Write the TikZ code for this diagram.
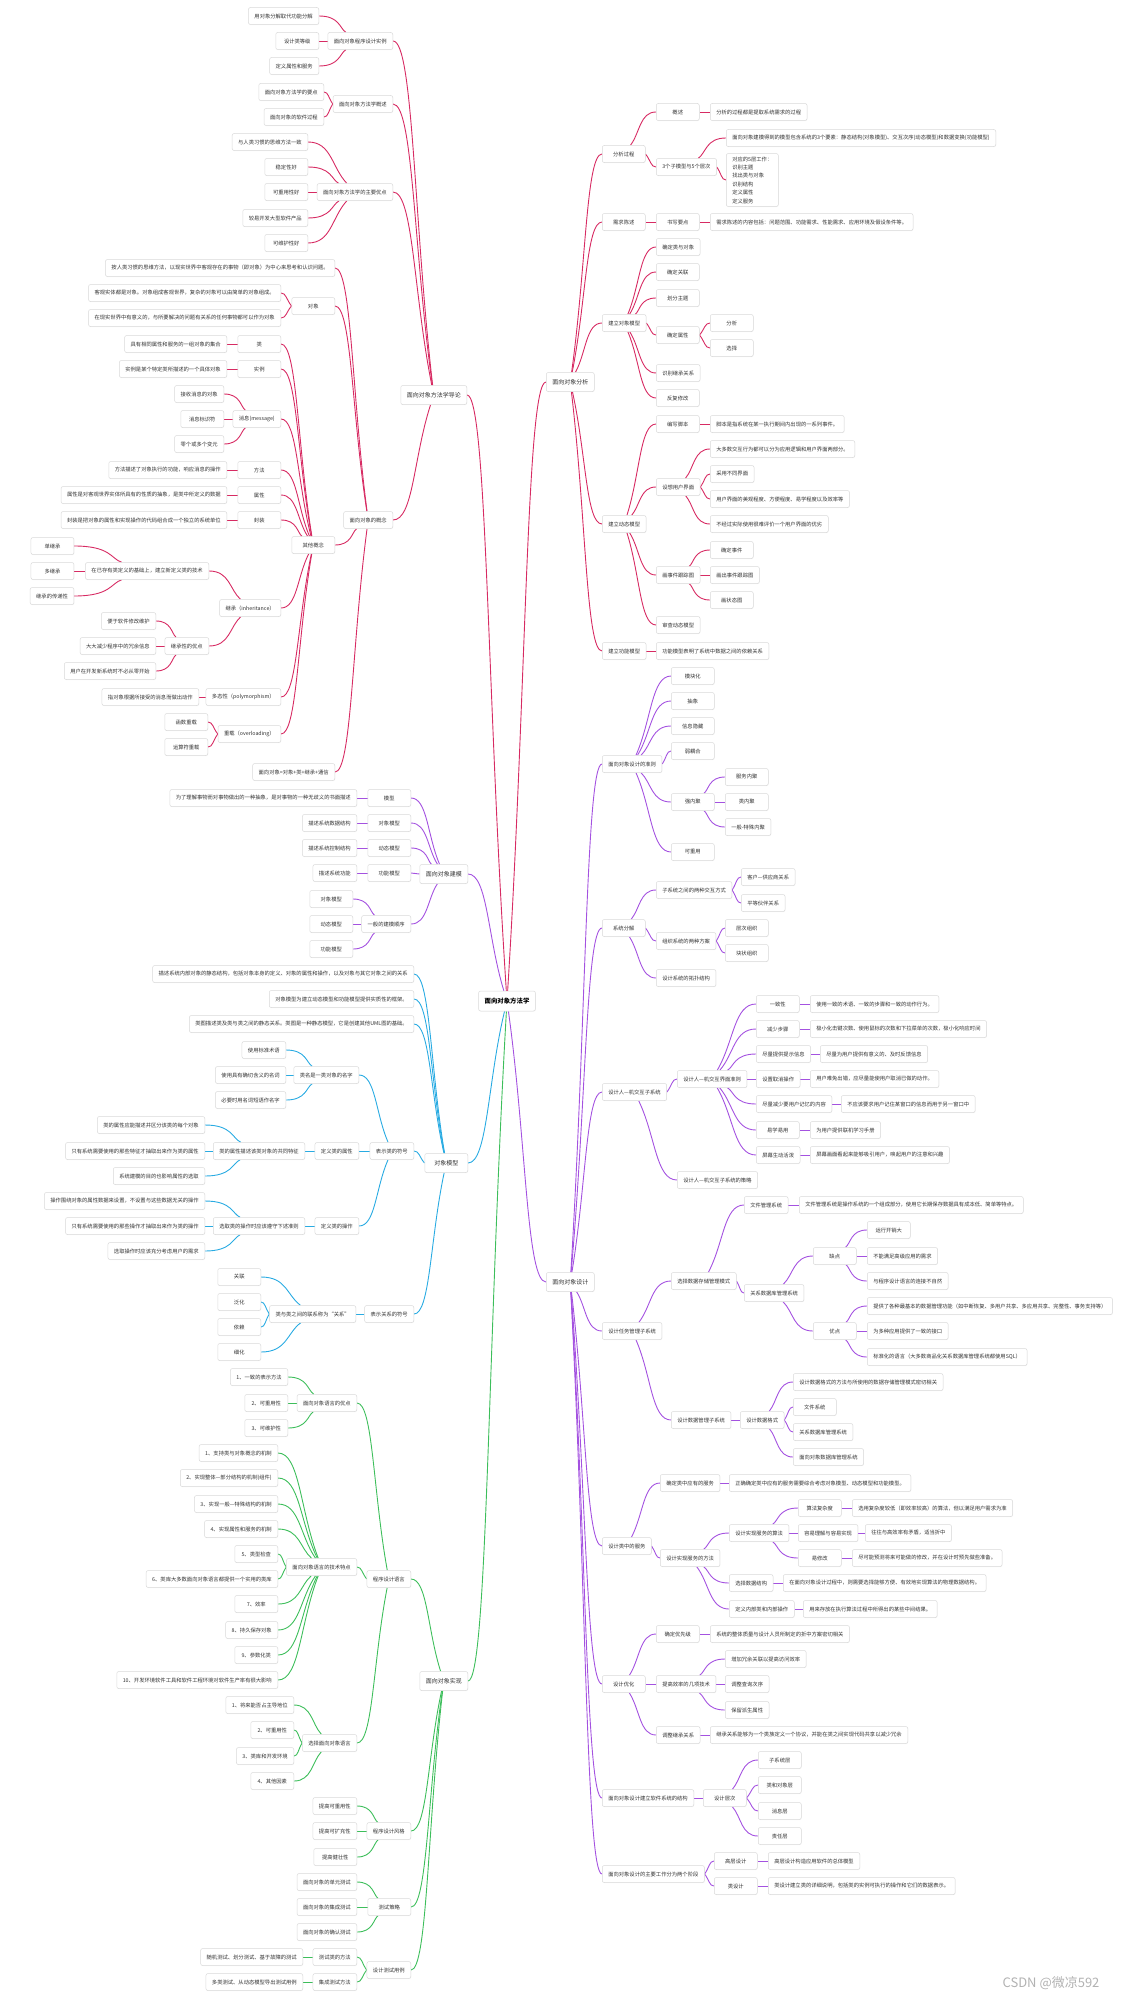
\documentclass[tikz,border=0pt]{standalone}
\usepackage{fontspec}
\setmainfont{Noto Sans CJK SC}
\usetikzlibrary{calc,backgrounds,shadows}

\definecolor{boxline}{HTML}{D9D9D9}
\definecolor{txt}{HTML}{333333}
\definecolor{redln}{HTML}{D72B63}
\definecolor{purln}{HTML}{A452E0}
\definecolor{bluln}{HTML}{29ABE2}
\definecolor{grnln}{HTML}{3DBE5B}

% curved branch from a parent to the east (left side) or west (right side) of a child
\newcommand{\lkl}[2]{\draw (#1) .. controls ($(#1)!0.5!(#2.east)$) and ($(#1 |- #2.east)!0.5!(#2.east)$) .. (#2.east);}
\newcommand{\lkr}[2]{\draw (#1) .. controls ($(#1)!0.5!(#2.west)$) and ($(#1 |- #2.west)!0.5!(#2.west)$) .. (#2.west);}

\begin{document}
\begin{tikzpicture}[x=1pt, y=-1pt,
  every node/.style={font=\fontsize{5.3}{6.4}\selectfont, text=txt},
  box/.style={draw=boxline, fill=white, rounded corners=2pt, line width=0.5pt,
    minimum height=17pt, minimum width=43pt, inner xsep=6pt, inner ysep=1pt,
    drop shadow={shadow xshift=0.4pt, shadow yshift=-0.6pt, opacity=0.08}},
  topbox/.style={box, font=\fontsize{6}{7}\selectfont, minimum height=19pt},
  lbox/.style={box, anchor=east},
  rbox/.style={box, anchor=west},
  conn/.style={every path/.style={draw=#1, line width=0.9pt}}]
  \useasboundingbox (0,0) rectangle (1121,1999);

  % Root
  \node[box, font=\fontsize{6.4}{7.5}\selectfont\bfseries, text=black, minimum height=20pt] (root) at (507,1001) {面向对象方法学};

  % Left: 面向对象方法学导论
  \node[topbox, anchor=east] (daolun) at (467,395) {面向对象方法学导论};
  \node[lbox] (a1) at (393,41) {面向对象程序设计实例};
  \node[lbox] (a1a) at (319,16) {用对象分解取代功能分解};
  \node[lbox] (a1b) at (319,41) {设计类等级};
  \node[lbox] (a1c) at (319,66) {定义属性和服务};
  \node[lbox] (a2) at (393,104) {面向对象方法学概述};
  \node[lbox] (a2a) at (324,92) {面向对象方法学的要点};
  \node[lbox] (a2b) at (324,117) {面向对象的软件过程};
  \node[lbox] (a3) at (393,192) {面向对象方法学的主要优点};
  \node[lbox] (a3a) at (308,142) {与人类习惯的思维方法一致};
  \node[lbox] (a3b) at (308,167) {稳定性好};
  \node[lbox] (a3c) at (308,192) {可重用性好};
  \node[lbox] (a3d) at (308,218) {较易开发大型软件产品};
  \node[lbox] (a3e) at (308,243) {可维护性好};
  \node[lbox] (a4) at (393,520) {面向对象的概念};
  \node[lbox] (a4a) at (335,268) {按人类习惯的思维方法，以现实世界中客观存在的事物（即对象）为中心来思考和认识问题。};
  \node[lbox] (a4b) at (335,306) {对象};
  \node[lbox] (a4b1) at (281,293) {客观实体都是对象。对象组成客观世界，复杂的对象可以由简单的对象组成。};
  \node[lbox] (a4b2) at (281,318) {在现实世界中有意义的，与所要解决的问题有关系的任何事物都可以作为对象};
  \node[lbox] (a4c) at (335,545) {其他概念};
  \node[lbox] (lei) at (281,344) {类};
  \node[lbox] (lei1) at (227,344) {具有相同属性和服务的一组对象的集合};
  \node[lbox] (shili) at (281,369) {实例};
  \node[lbox] (shili1) at (227,369) {实例是某个特定类所描述的一个具体对象};
  \node[lbox] (xiaoxi) at (281,419) {消息(message)};
  \node[lbox] (xx1) at (224,394) {接收消息的对象};
  \node[lbox] (xx2) at (224,419) {消息标识符};
  \node[lbox] (xx3) at (224,444) {零个或多个变元};
  \node[lbox] (fangfa) at (281,470) {方法};
  \node[lbox] (ff1) at (227,470) {方法描述了对象执行的功能，响应消息的操作};
  \node[lbox] (shuxing) at (281,495) {属性};
  \node[lbox] (sx1) at (227,495) {属性是对客观世界实体所具有的性质的抽象，是类中所定义的数据};
  \node[lbox] (fengzhuang) at (281,520) {封装};
  \node[lbox] (fz1) at (227,520) {封装是把对象的属性和实现操作的代码组合成一个独立的系统单位};
  \node[lbox] (jicheng) at (281,608) {继承（inheritance）};
  \node[lbox] (jc1) at (209,571) {在已存有类定义的基础上，建立新定义类的技术};
  \node[lbox] (jc1a) at ($(jc1.west)+(-11,-25)$) {单继承};
  \node[lbox] (jc1b) at ($(jc1.west)+(-11,0)$) {多继承};
  \node[lbox] (jc1c) at ($(jc1.west)+(-11,25)$) {继承的传递性};
  \node[lbox] (jc2) at (209,646) {继承性的优点};
  \node[lbox] (jc2a) at (156,621) {便于软件修改维护};
  \node[lbox] (jc2b) at (156,646) {大大减少程序中的冗余信息};
  \node[lbox] (jc2c) at (156,671) {用户在开发新系统时不必从零开始};
  \node[lbox] (duotai) at (281,697) {多态性（polymorphism）};
  \node[lbox] (dt1) at (199,697) {指对象根据所接受的消息而做出动作};
  \node[lbox] (chongzai) at (281,734) {重载（overloading）};
  \node[lbox] (cz1) at (208,722) {函数重载};
  \node[lbox] (cz2) at (208,747) {运算符重载};
  \node[lbox] (a4d) at (335,772) {面向对象=对象+类+继承+通信};

  % Left: 面向对象建模
  \node[topbox, anchor=east] (jianmo) at (468,874) {面向对象建模};
  \node[lbox] (b1) at (411,798) {模型};
  \node[lbox] (b1a) at (357,798) {为了理解事物而对事物做出的一种抽象，是对事物的一种无歧义的书面描述};
  \node[lbox] (b2) at (411,823) {对象模型};
  \node[lbox] (b2a) at (357,823) {描述系统数据结构};
  \node[lbox] (b3) at (411,848) {动态模型};
  \node[lbox] (b3a) at (357,848) {描述系统控制结构};
  \node[lbox] (b4) at (411,873) {功能模型};
  \node[lbox] (b4a) at (357,873) {描述系统功能};
  \node[lbox] (b5) at (411,924) {一般的建模顺序};
  \node[lbox] (b5a) at (353,899) {对象模型};
  \node[lbox] (b5b) at (353,924) {动态模型};
  \node[lbox] (b5c) at (353,949) {功能模型};

  % Left: 对象模型
  \node[topbox, anchor=east] (dxmx) at (468,1163) {对象模型};
  \node[lbox] (c1) at (414,974) {描述系统内部对象的静态结构，包括对象本身的定义、对象的属性和操作，以及对象与其它对象之间的关系};
  \node[lbox] (c2) at (414,999) {对象模型为建立动态模型和功能模型提供实质性的框架。};
  \node[lbox] (c3) at (414,1024) {类图描述类及类与类之间的静态关系。类图是一种静态模型，它是创建其他UML图的基础。};
  \node[lbox] (c4) at (414,1151) {表示类的符号};
  \node[lbox] (c41) at (359,1075) {类名是一类对象的名字};
  \node[lbox] (c41a) at (286,1050) {使用标准术语};
  \node[lbox] (c41b) at (286,1075) {使用具有确切含义的名词};
  \node[lbox] (c41c) at (286,1100) {必要时用名词短语作名字};
  \node[lbox] (c42) at (359,1151) {定义类的属性};
  \node[lbox] (c42a) at (305,1151) {类的属性描述该类对象的共同特征};
  \node[lbox] (c42a1) at (205,1125) {类的属性应能描述并区分该类的每个对象};
  \node[lbox] (c42a2) at (205,1151) {只有系统需要使用的那些特征才抽取出来作为类的属性};
  \node[lbox] (c42a3) at (205,1176) {系统建模的目的也影响属性的选取};
  \node[lbox] (c43) at (359,1226) {定义类的操作};
  \node[lbox] (c43a) at (305,1226) {选取类的操作时应该遵守下述准则};
  \node[lbox] (c43a1) at (205,1201) {操作围绕对象的属性数据来设置，不设置与这些数据无关的操作};
  \node[lbox] (c43a2) at (205,1226) {只有系统需要使用的那些操作才抽取出来作为类的操作};
  \node[lbox] (c43a3) at (205,1251) {选取操作时应该充分考虑用户的需求};
  \node[lbox] (c5) at (414,1314) {表示关系的符号};
  \node[lbox] (c51) at (356,1314) {类与类之间的联系称为“关系”};
  \node[lbox] (c51a) at (261,1277) {关联};
  \node[lbox] (c51b) at (261,1302) {泛化};
  \node[lbox] (c51c) at (261,1327) {依赖};
  \node[lbox] (c51d) at (261,1352) {细化};

  % Left: 面向对象实现
  \node[topbox, anchor=east] (shixian) at (468,1681) {面向对象实现};
  \node[lbox] (d1) at (411,1579) {程序设计语言};
  \node[lbox] (d11) at (357,1403) {面向对象语言的优点};
  \node[lbox] (d11a) at (288,1377) {1、一致的表示方法};
  \node[lbox] (d11b) at (288,1403) {2、可重用性};
  \node[lbox] (d11c) at (288,1428) {3、可维护性};
  \node[lbox] (d12) at (357,1567) {面向对象语言的技术特点};
  \node[lbox] (d12a) at (278,1453) {1、支持类与对象概念的机制};
  \node[lbox] (d12b) at (278,1478) {2、实现整体—部分结构的机制(组件)};
  \node[lbox] (d12c) at (278,1504) {3、实现一般—特殊结构的机制};
  \node[lbox] (d12d) at (278,1529) {4、实现属性和服务的机制};
  \node[lbox] (d12e) at (278,1554) {5、类型检查};
  \node[lbox] (d12f) at (278,1579) {6、类库大多数面向对象语言都提供一个实用的类库};
  \node[lbox] (d12g) at (278,1604) {7、效率};
  \node[lbox] (d12h) at (278,1630) {8、持久保存对象};
  \node[lbox] (d12i) at (278,1655) {9、参数化类};
  \node[lbox] (d12j) at (278,1680) {10、开发环境软件工具和软件工程环境对软件生产率有很大影响};
  \node[lbox] (d13) at (357,1743) {选择面向对象语言};
  \node[lbox] (d13a) at (294,1705) {1、将来能否占主导地位};
  \node[lbox] (d13b) at (294,1730) {2、可重用性};
  \node[lbox] (d13c) at (294,1756) {3、类库和开发环境};
  \node[lbox] (d13d) at (294,1781) {4、其他因素};
  \node[lbox] (d2) at (411,1831) {程序设计风格};
  \node[lbox] (d2a) at (357,1806) {提高可重用性};
  \node[lbox] (d2b) at (357,1831) {提高可扩充性};
  \node[lbox] (d2c) at (357,1857) {提高健壮性};
  \node[lbox] (d3) at (411,1907) {测试策略};
  \node[lbox] (d3a) at (357,1882) {面向对象的单元测试};
  \node[lbox] (d3b) at (357,1907) {面向对象的集成测试};
  \node[lbox] (d3c) at (357,1932) {面向对象的确认测试};
  \node[lbox] (d4) at (411,1970) {设计测试用例};
  \node[lbox] (d4a) at (357,1957) {测试类的方法};
  \node[lbox] (d4a1) at (303,1957) {随机测试、划分测试、基于故障的测试};
  \node[lbox] (d4b) at (357,1982) {集成测试方法};
  \node[lbox] (d4b1) at (303,1982) {多类测试、从动态模型导出测试用例};

  % Right: 面向对象分析
  \node[topbox, anchor=west] (fenxi) at (546,382) {面向对象分析};
  \node[rbox] (e1) at (602,154) {分析过程};
  \node[rbox] (e11) at (656,112) {概述};
  \node[rbox] (e11a) at (710,112) {分析的过程都是提取系统需求的过程};
  \node[rbox] (e12) at (656,167) {3个子模型与5个层次};
  \node[rbox] (e12a) at (726,138) {面向对象建模得到的模型包含系统的3个要素：静态结构(对象模型)、交互次序(动态模型)和数据变换(功能模型)};
  \node[rbox, align=left, font=\fontsize{5.3}{8.4}\selectfont, inner ysep=3pt] (e12b) at (726,180) {对应的5层工作：\\识别主题\\找出类与对象\\识别结构\\定义属性\\定义服务};
  \node[rbox] (e2) at (602,222) {需求陈述};
  \node[rbox] (e21) at (656,222) {书写要点};
  \node[rbox] (e21a) at (710,222) {需求陈述的内容包括：问题范围、功能需求、性能需求、应用环境及假设条件等。};
  \node[rbox] (e3) at (602,323) {建立对象模型};
  \node[rbox] (e31) at (656,247) {确定类与对象};
  \node[rbox] (e32) at (656,272) {确定关联};
  \node[rbox] (e33) at (656,298) {划分主题};
  \node[rbox] (e34) at (656,335) {确定属性};
  \node[rbox] (e34a) at (710,323) {分析};
  \node[rbox] (e34b) at (710,348) {选择};
  \node[rbox] (e35) at (656,373) {识别继承关系};
  \node[rbox] (e36) at (656,398) {反复修改};
  \node[rbox] (e4) at (602,524) {建立动态模型};
  \node[rbox] (e41) at (656,424) {编写脚本};
  \node[rbox] (e41a) at (710,424) {脚本是指系统在某一执行期间内出现的一系列事件。};
  \node[rbox] (e42) at (656,487) {设想用户界面};
  \node[rbox] (e42a) at (710,449) {大多数交互行为都可以分为应用逻辑和用户界面两部分。};
  \node[rbox] (e42b) at (710,474) {采用不同界面};
  \node[rbox] (e42c) at (710,499) {用户界面的美观程度、方便程度、易学程度以及效率等};
  \node[rbox] (e42d) at (710,524) {不经过实际使用很难评价一个用户界面的优劣};
  \node[rbox] (e43) at (656,575) {画事件跟踪图};
  \node[rbox] (e43a) at (710,550) {确定事件};
  \node[rbox] (e43b) at (710,575) {画出事件跟踪图};
  \node[rbox] (e43c) at (710,600) {画状态图};
  \node[rbox] (e44) at (656,625) {审查动态模型};
  \node[rbox] (e5) at (602,651) {建立功能模型};
  \node[rbox] (e51) at (656,651) {功能模型表明了系统中数据之间的依赖关系};

  % Right: 面向对象设计
  \node[topbox, anchor=west] (sheji) at (546,1282) {面向对象设计};
  \node[rbox] (f1) at (602,764) {面向对象设计的准则};
  \node[rbox] (f11) at (671,676) {模块化};
  \node[rbox] (f12) at (671,701) {抽象};
  \node[rbox] (f13) at (671,726) {信息隐藏};
  \node[rbox] (f14) at (671,751) {弱耦合};
  \node[rbox] (f15) at (671,802) {强内聚};
  \node[rbox] (f15a) at (725,777) {服务内聚};
  \node[rbox] (f15b) at (725,802) {类内聚};
  \node[rbox] (f15c) at (725,827) {一般-特殊内聚};
  \node[rbox] (f16) at (671,852) {可重用};
  \node[rbox] (f2) at (602,928) {系统分解};
  \node[rbox] (f21) at (656,890) {子系统之间的两种交互方式};
  \node[rbox] (f21a) at (741,877) {客户—供应商关系};
  \node[rbox] (f21b) at (741,903) {平等伙伴关系};
  \node[rbox] (f22) at (656,941) {组织系统的两种方案};
  \node[rbox] (f22a) at (725,928) {层次组织};
  \node[rbox] (f22b) at (725,953) {块状组织};
  \node[rbox] (f23) at (656,978) {设计系统的拓扑结构};
  \node[rbox] (f3) at (602,1092) {设计人—机交互子系统};
  \node[rbox] (f31) at (677,1079) {设计人—机交互界面准则};
  \node[rbox] (f311) at (756,1004) {一致性};
  \node[rbox] (f311a) at (810,1004) {使用一致的术语、一致的步骤和一致的动作行为。};
  \node[rbox] (f312) at (756,1029) {减少步骤};
  \node[rbox] (f312a) at (810,1029) {极小化击键次数、使用鼠标的次数和下拉菜单的次数，极小化响应时间};
  \node[rbox] (f313) at (756,1054) {尽量提供提示信息};
  \node[rbox] (f313a) at (820,1054) {尽量为用户提供有意义的、及时反馈信息};
  \node[rbox] (f314) at (756,1079) {设置取消操作};
  \node[rbox] (f314a) at (810,1079) {用户难免出错，应尽量能使用户取消已做的动作。};
  \node[rbox] (f315) at (756,1104) {尽量减少要用户记忆的内容};
  \node[rbox] (f315a) at (841,1104) {不应该要求用户记住某窗口的信息而用于另一窗口中};
  \node[rbox] (f316) at (756,1130) {易学易用};
  \node[rbox] (f316a) at (810,1130) {为用户提供联机学习手册};
  \node[rbox] (f317) at (756,1155) {屏幕生动活泼};
  \node[rbox] (f317a) at (810,1155) {屏幕画面看起来能够吸引用户，唤起用户的注意和兴趣};
  \node[rbox] (f32) at (677,1180) {设计人—机交互子系统的策略};
  \node[rbox] (f4) at (602,1331) {设计任务管理子系统};
  \node[rbox] (f41) at (671,1281) {选择数据存储管理模式};
  \node[rbox] (f411) at (744,1205) {文件管理系统};
  \node[rbox] (f411a) at (799,1205) {文件管理系统是操作系统的一个组成部分，使用它长期保存数据具有成本低、简单等特点。};
  \node[rbox] (f412) at (744,1293) {关系数据库管理系统};
  \node[rbox] (f412q) at (813,1256) {缺点};
  \node[rbox] (f412q1) at (867,1230) {运行开销大};
  \node[rbox] (f412q2) at (867,1256) {不能满足高级应用的需求};
  \node[rbox] (f412q3) at (867,1281) {与程序设计语言的连接不自然};
  \node[rbox] (f412y) at (813,1331) {优点};
  \node[rbox] (f412y1) at (867,1306) {提供了各种最基本的数据管理功能（如中断恢复、多用户共享、多应用共享、完整性、事务支持等）};
  \node[rbox] (f412y2) at (867,1331) {为多种应用提供了一致的接口};
  \node[rbox] (f412y3) at (867,1357) {标准化的语言（大多数商品化关系数据库管理系统都使用SQL）};
  \node[rbox] (f42) at (671,1420) {设计数据管理子系统};
  \node[rbox] (f421) at (740,1420) {设计数据格式};
  \node[rbox] (f421a) at (793,1382) {设计数据格式的方法与所使用的数据存储管理模式密切相关};
  \node[rbox] (f421b) at (793,1407) {文件系统};
  \node[rbox] (f421c) at (793,1432) {关系数据库管理系统};
  \node[rbox] (f421d) at (793,1457) {面向对象数据库管理系统};
  \node[rbox] (f5) at (602,1546) {设计类中的服务};
  \node[rbox] (f51) at (660,1483) {确定类中应有的服务};
  \node[rbox] (f51a) at (729,1483) {正确确定类中应有的服务需要综合考虑对象模型、动态模型和功能模型。};
  \node[rbox] (f52) at (660,1558) {设计实现服务的方法};
  \node[rbox] (f521) at (729,1533) {设计实现服务的算法};
  \node[rbox] (f521a) at (798,1508) {算法复杂度};
  \node[rbox] (f521a1) at (852,1508) {选用复杂度较低（即效率较高）的算法，但以满足用户需求为准};
  \node[rbox] (f521b) at (798,1533) {容易理解与容易实现};
  \node[rbox] (f521b1) at (865,1533) {往往与高效率有矛盾，适当折中};
  \node[rbox] (f521c) at (798,1558) {易修改};
  \node[rbox] (f521c1) at (852,1558) {尽可能预测将来可能做的修改，并在设计时预先做些准备。};
  \node[rbox] (f522) at (729,1583) {选择数据结构};
  \node[rbox] (f522a) at (783,1583) {在面向对象设计过程中，则需要选择能够方便、有效地实现算法的物理数据结构。};
  \node[rbox] (f523) at (729,1609) {定义内部类和内部操作};
  \node[rbox] (f523a) at (803,1609) {用来存放在执行算法过程中所得出的某些中间结果。};
  \node[rbox] (f6) at (602,1684) {设计优化};
  \node[rbox] (f61) at (656,1634) {确定优先级};
  \node[rbox] (f61a) at (710,1634) {系统的整体质量与设计人员所制定的折中方案密切相关};
  \node[rbox] (f62) at (656,1684) {提高效率的几项技术};
  \node[rbox] (f62a) at (725,1659) {增加冗余关联以提高访问效率};
  \node[rbox] (f62b) at (725,1684) {调整查询次序};
  \node[rbox] (f62c) at (725,1710) {保留派生属性};
  \node[rbox] (f63) at (656,1735) {调整继承关系};
  \node[rbox] (f63a) at (710,1735) {继承关系能够为一个类族定义一个协议，并能在类之间实现代码共享以减少冗余};
  \node[rbox] (f7) at (602,1798) {面向对象设计建立软件系统的结构};
  \node[rbox] (f71) at (703,1798) {设计层次};
  \node[rbox] (f71a) at (758,1760) {子系统层};
  \node[rbox] (f71b) at (758,1785) {类和对象层};
  \node[rbox] (f71c) at (758,1811) {消息层};
  \node[rbox] (f71d) at (758,1836) {责任层};
  \node[rbox] (f8) at (602,1874) {面向对象设计的主要工作分为两个阶段};
  \node[rbox] (f81) at (714,1861) {高层设计};
  \node[rbox] (f81a) at (768,1861) {高层设计构造应用软件的总体模型};
  \node[rbox] (f82) at (714,1886) {类设计};
  \node[rbox] (f82a) at (768,1886) {类设计建立类的详细说明，包括类的实例可执行的操作和它们的数据表示。};

  % Watermark
  \node[font=\fontsize{13}{14}\selectfont, text=gray!60] (wm) at (1051,1983) {CSDN @微凉592};

  % Branches: 导论
  \begin{scope}[on background layer, conn=redln]
    \lkl{root}{daolun}
    \lkl{daolun}{a1} \lkl{daolun}{a2} \lkl{daolun}{a3} \lkl{daolun}{a4}
    \lkl{a1}{a1a} \lkl{a1.west}{a1b} \lkl{a1}{a1c}
    \lkl{a2.west}{a2a} \lkl{a2.west}{a2b}
    \lkl{a3}{a3a} \lkl{a3}{a3b} \lkl{a3.west}{a3c} \lkl{a3}{a3d} \lkl{a3}{a3e}
    \lkl{a4}{a4a} \lkl{a4}{a4b} \lkl{a4}{a4c} \lkl{a4}{a4d}
    \lkl{a4b.west}{a4b1} \lkl{a4b.west}{a4b2}
    \lkl{a4c}{lei} \lkl{a4c}{shili} \lkl{a4c}{xiaoxi} \lkl{a4c}{fangfa} \lkl{a4c}{shuxing}
    \lkl{a4c}{fengzhuang} \lkl{a4c}{jicheng} \lkl{a4c}{duotai} \lkl{a4c}{chongzai}
    \lkl{lei.west}{lei1} \lkl{shili.west}{shili1}
    \lkl{xiaoxi}{xx1} \lkl{xiaoxi.west}{xx2} \lkl{xiaoxi}{xx3}
    \lkl{fangfa.west}{ff1} \lkl{shuxing.west}{sx1} \lkl{fengzhuang.west}{fz1}
    \lkl{jicheng}{jc1} \lkl{jicheng}{jc2}
    \lkl{jc1}{jc1a} \lkl{jc1.west}{jc1b} \lkl{jc1}{jc1c}
    \lkl{jc2}{jc2a} \lkl{jc2.west}{jc2b} \lkl{jc2}{jc2c}
    \lkl{duotai.west}{dt1}
    \lkl{chongzai.west}{cz1} \lkl{chongzai.west}{cz2}
  \end{scope}

  % Branches: 分析
  \begin{scope}[on background layer, conn=redln]
    \lkr{root}{fenxi}
    \lkr{fenxi}{e1} \lkr{fenxi}{e2} \lkr{fenxi}{e3} \lkr{fenxi}{e4} \lkr{fenxi}{e5}
    \lkr{e1}{e11} \lkr{e1.east}{e12}
    \lkr{e11.east}{e11a}
    \lkr{e12}{e12a} \lkr{e12.east}{e12b}
    \lkr{e2.east}{e21} \lkr{e21.east}{e21a}
    \lkr{e3}{e31} \lkr{e3}{e32} \lkr{e3}{e33} \lkr{e3.east}{e34} \lkr{e3}{e35} \lkr{e3}{e36}
    \lkr{e34.east}{e34a} \lkr{e34.east}{e34b}
    \lkr{e4}{e41} \lkr{e4}{e42} \lkr{e4}{e43} \lkr{e4}{e44}
    \lkr{e41.east}{e41a}
    \lkr{e42}{e42a} \lkr{e42.east}{e42b} \lkr{e42.east}{e42c} \lkr{e42}{e42d}
    \lkr{e43}{e43a} \lkr{e43.east}{e43b} \lkr{e43}{e43c}
    \lkr{e5.east}{e51}
  \end{scope}

  % Branches: 建模
  \begin{scope}[on background layer, conn=purln]
    \lkl{root}{jianmo}
    \lkl{jianmo}{b1} \lkl{jianmo}{b2} \lkl{jianmo}{b3} \lkl{jianmo.west}{b4} \lkl{jianmo}{b5}
    \lkl{b1.west}{b1a} \lkl{b2.west}{b2a} \lkl{b3.west}{b3a} \lkl{b4.west}{b4a}
    \lkl{b5}{b5a} \lkl{b5.west}{b5b} \lkl{b5}{b5c}
  \end{scope}

  % Branches: 设计
  \begin{scope}[on background layer, conn=purln]
    \lkr{root}{sheji}
    \lkr{sheji}{f1} \lkr{sheji}{f2} \lkr{sheji}{f3} \lkr{sheji}{f4}
    \lkr{sheji}{f5} \lkr{sheji}{f6} \lkr{sheji}{f7} \lkr{sheji}{f8}
    \lkr{f1}{f11} \lkr{f1}{f12} \lkr{f1}{f13} \lkr{f1.east}{f14} \lkr{f1}{f15} \lkr{f1}{f16}
    \lkr{f15}{f15a} \lkr{f15.east}{f15b} \lkr{f15}{f15c}
    \lkr{f2}{f21} \lkr{f2.east}{f22} \lkr{f2}{f23}
    \lkr{f21.east}{f21a} \lkr{f21.east}{f21b}
    \lkr{f22.east}{f22a} \lkr{f22.east}{f22b}
    \lkr{f3.east}{f31} \lkr{f3}{f32}
    \lkr{f31}{f311} \lkr{f31}{f312} \lkr{f31}{f313} \lkr{f31.east}{f314}
    \lkr{f31}{f315} \lkr{f31}{f316} \lkr{f31}{f317}
    \lkr{f311.east}{f311a} \lkr{f312.east}{f312a} \lkr{f313.east}{f313a} \lkr{f314.east}{f314a}
    \lkr{f315.east}{f315a} \lkr{f316.east}{f316a} \lkr{f317.east}{f317a}
    \lkr{f4}{f41} \lkr{f4}{f42}
    \lkr{f41}{f411} \lkr{f41.east}{f412}
    \lkr{f411.east}{f411a}
    \lkr{f412}{f412q} \lkr{f412}{f412y}
    \lkr{f412q}{f412q1} \lkr{f412q.east}{f412q2} \lkr{f412q}{f412q3}
    \lkr{f412y}{f412y1} \lkr{f412y.east}{f412y2} \lkr{f412y}{f412y3}
    \lkr{f42.east}{f421}
    \lkr{f421}{f421a} \lkr{f421.east}{f421b} \lkr{f421.east}{f421c} \lkr{f421}{f421d}
    \lkr{f5}{f51} \lkr{f5.east}{f52}
    \lkr{f51.east}{f51a}
    \lkr{f52}{f521} \lkr{f52}{f522} \lkr{f52}{f523}
    \lkr{f521}{f521a} \lkr{f521.east}{f521b} \lkr{f521}{f521c}
    \lkr{f521a.east}{f521a1} \lkr{f521b.east}{f521b1} \lkr{f521c.east}{f521c1}
    \lkr{f522.east}{f522a} \lkr{f523.east}{f523a}
    \lkr{f6}{f61} \lkr{f6.east}{f62} \lkr{f6}{f63}
    \lkr{f61.east}{f61a}
    \lkr{f62}{f62a} \lkr{f62.east}{f62b} \lkr{f62}{f62c}
    \lkr{f63.east}{f63a}
    \lkr{f7.east}{f71}
    \lkr{f71}{f71a} \lkr{f71.east}{f71b} \lkr{f71.east}{f71c} \lkr{f71}{f71d}
    \lkr{f8.east}{f81} \lkr{f8.east}{f82}
    \lkr{f81.east}{f81a} \lkr{f82.east}{f82a}
  \end{scope}

  % Branches: 对象模型
  \begin{scope}[on background layer, conn=bluln]
    \lkl{root}{dxmx}
    \lkl{dxmx}{c1} \lkl{dxmx}{c2} \lkl{dxmx}{c3} \lkl{dxmx.west}{c4} \lkl{dxmx}{c5}
    \lkl{c4}{c41} \lkl{c4.west}{c42} \lkl{c4}{c43}
    \lkl{c41}{c41a} \lkl{c41.west}{c41b} \lkl{c41}{c41c}
    \lkl{c42.west}{c42a}
    \lkl{c42a}{c42a1} \lkl{c42a.west}{c42a2} \lkl{c42a}{c42a3}
    \lkl{c43.west}{c43a}
    \lkl{c43a}{c43a1} \lkl{c43a.west}{c43a2} \lkl{c43a}{c43a3}
    \lkl{c5.west}{c51}
    \lkl{c51}{c51a} \lkl{c51.west}{c51b} \lkl{c51.west}{c51c} \lkl{c51}{c51d}
  \end{scope}

  % Branches: 实现
  \begin{scope}[on background layer, conn=grnln]
    \lkl{root}{shixian}
    \lkl{shixian}{d1} \lkl{shixian}{d2} \lkl{shixian}{d3} \lkl{shixian}{d4}
    \lkl{d1}{d11} \lkl{d1.west}{d12} \lkl{d1}{d13}
    \lkl{d11}{d11a} \lkl{d11.west}{d11b} \lkl{d11}{d11c}
    \lkl{d12}{d12a} \lkl{d12}{d12b} \lkl{d12}{d12c} \lkl{d12}{d12d} \lkl{d12.west}{d12e}
    \lkl{d12.west}{d12f} \lkl{d12}{d12g} \lkl{d12}{d12h} \lkl{d12}{d12i} \lkl{d12}{d12j}
    \lkl{d13}{d13a} \lkl{d13.west}{d13b} \lkl{d13.west}{d13c} \lkl{d13}{d13d}
    \lkl{d2}{d2a} \lkl{d2.west}{d2b} \lkl{d2}{d2c}
    \lkl{d3}{d3a} \lkl{d3.west}{d3b} \lkl{d3}{d3c}
    \lkl{d4.west}{d4a} \lkl{d4.west}{d4b}
    \lkl{d4a.west}{d4a1} \lkl{d4b.west}{d4b1}
  \end{scope}
\end{tikzpicture}
\end{document}
